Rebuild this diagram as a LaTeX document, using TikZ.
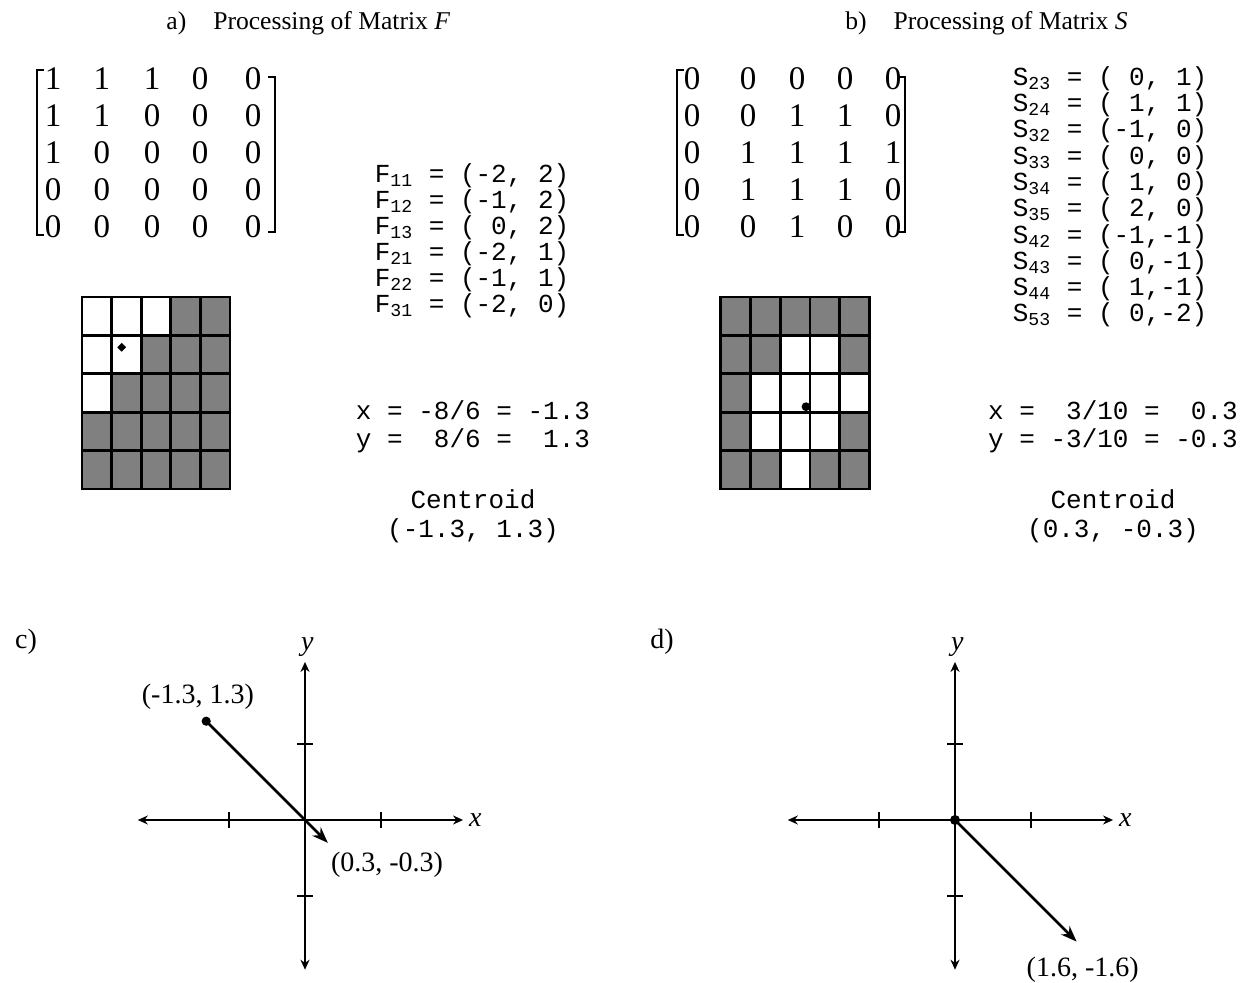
\documentclass[tikz,border=0pt]{standalone}
\usepackage{fontspec}
\setmainfont{Liberation Serif}
\setmonofont{Liberation Mono}
\usepackage{xcolor}
\usetikzlibrary{arrows.meta,shapes.geometric}
\definecolor{cell0}{HTML}{808080}
\definecolor{cell1}{HTML}{FFFFFF}

\begin{document}
\begin{tikzpicture}[x=0.5pt,y=-0.5pt,
  title/.style={font=\fontsize{12.8}{15}\selectfont,anchor=base west,inner sep=0pt},
  entry/.style={font=\fontsize{16.5}{18}\selectfont,anchor=base,inner sep=0pt},
  mono/.style={font=\fontsize{13}{13}\ttfamily,anchor=base,inner sep=0pt},
  lbl/.style={font=\fontsize{14}{16}\selectfont,inner sep=0pt},
  bracket/.style={line width=1.2pt},
  cell/.style={line width=1.4pt},
  tick/.style={line width=1.2pt},
  axis/.style={line width=1.3pt,{Stealth[length=5pt,width=4.5pt]}-{Stealth[length=5pt,width=4.5pt]}},
  vec/.style={line width=1.3pt,-{Stealth[length=8pt,width=6pt]}},
  dot/.style={circle,fill,inner sep=0pt,minimum size=4.6pt}]
\useasboundingbox (0,0) rectangle (1254,983);

% titles
\node[title] (ta) at (166,30) {a)\hspace{13.5pt}Processing of Matrix \textit{F}};
\node[title] (tb) at (845,30) {b)\hspace{13.5pt}Processing of Matrix \textit{S}};

% matrix F and its grid
\draw[bracket] (44,70) -- (37,70) -- (37,235) -- (44,235);
\draw[bracket] (268,77) -- (275,77) -- (275,232) -- (268,232);
\foreach \row [count=\r] in {{1,1,1,0,0},{1,1,0,0,0},{1,0,0,0,0},{0,0,0,0,0},{0,0,0,0,0}}
  \foreach \v [count=\c] in \row {
    \pgfmathsetmacro\mx{{53,102,152,200,253}[\c-1]}
    \node[entry] (f-\r-\c) at (\mx,53+37*\r) {\v};
    \filldraw[cell,fill=cell\v] (52.4+29.6*\c,258.6+38.4*\r) rectangle ++(29.6,38.4);
  }
\node[diamond,fill,inner sep=0pt,minimum size=4.6pt] (fc) at (121.7,347.3) {};

% matrix S and its grid
\draw[bracket] (684,70) -- (677,70) -- (677,235) -- (684,235);
\draw[bracket] (898,77) -- (905,77) -- (905,232) -- (898,232);
\foreach \row [count=\r] in {{0,0,0,0,0},{0,0,1,1,0},{0,1,1,1,1},{0,1,1,1,0},{0,0,1,0,0}}
  \foreach \v [count=\c] in \row {
    \pgfmathsetmacro\mx{{692,748,797,845,893}[\c-1]}
    \node[entry] (s-\r-\c) at (\mx,53+37*\r) {\v};
    \filldraw[cell,fill=cell\v] (691.1+29.7*\c,258.6+38.4*\r) rectangle ++(29.7,38.4);
  }
\node[dot,minimum size=4.4pt] (sc) at (806,406.7) {};

% pixel lists
\foreach \t [count=\i] in {{F\textsubscript{11} = (-2, 2)},{F\textsubscript{12} = (-1, 2)},
    {F\textsubscript{13} = ( 0, 2)},{F\textsubscript{21} = (-2, 1)},
    {F\textsubscript{22} = (-1, 1)},{F\textsubscript{31} = (-2, 0)}}
  \node[mono] (fl\i) at (472,157+26*\i) {\t};
\node[mono] (fx) at (473,420) {x = -8/6 = -1.3};
\node[mono] (fy) at (473,448) {y =~~8/6 =~~1.3};
\node[mono] (fcen) at (473,509) {Centroid};
\node[mono] (fval) at (473,538) {(-1.3, 1.3)};

\foreach \t [count=\i] in {{S\textsubscript{23} = ( 0, 1)},{S\textsubscript{24} = ( 1, 1)},
    {S\textsubscript{32} = (-1, 0)},{S\textsubscript{33} = ( 0, 0)},
    {S\textsubscript{34} = ( 1, 0)},{S\textsubscript{35} = ( 2, 0)},
    {S\textsubscript{42} = (-1,-1)},{S\textsubscript{43} = ( 0,-1)},
    {S\textsubscript{44} = ( 1,-1)},{S\textsubscript{53} = ( 0,-2)}}
  \node[mono] (sl\i) at (1110,59+26.3*\i) {\t};
\node[mono] (sx) at (1113,420) {x =~~3/10 =~~0.3};
\node[mono] (sy) at (1113,448) {y = -3/10 = -0.3};
\node[mono] (scen) at (1113,509) {Centroid};
\node[mono] (sval) at (1113,538) {(0.3, -0.3)};

% c) centroid of F
\node[lbl] (lc) at (26,642) {c)};
\begin{scope}[shift={(305,820)},x=38pt,y=38pt]
  \draw[axis] (-2.2,0) -- (2.08,0);
  \draw[axis] (0,-1.97) -- (0,2.08);
  \foreach \t in {-1,1} {
    \draw[tick] (\t,0) +(0pt,-4pt) -- +(0pt,4pt);
    \draw[tick] (0,\t) +(-4pt,0pt) -- +(4pt,0pt);
  }
  \node[lbl] (cxl) at (2.24,0) {\textit{x}};
  \node[lbl] (cyl) at (0.03,2.27) {\textit{y}};
  \node[dot] (cp) at (-1.3,1.3) {};
  \coordinate (ct) at (0.3,-0.3);
  \draw[vec] (cp.center) -- (ct);
  \node[lbl] (cpl) at (-1.41,1.62) {(-1.3, 1.3)};
  \node[lbl] (ctl) at (1.08,-0.59) {(0.3, -0.3)};
\end{scope}

% d) centroid of S
\node[lbl] (ld) at (662,642) {d)};
\begin{scope}[shift={(955,820)},x=38pt,y=38pt]
  \draw[axis] (-2.2,0) -- (2.08,0);
  \draw[axis] (0,-1.97) -- (0,2.08);
  \foreach \t in {-1,1} {
    \draw[tick] (\t,0) +(0pt,-4pt) -- +(0pt,4pt);
    \draw[tick] (0,\t) +(-4pt,0pt) -- +(4pt,0pt);
  }
  \node[lbl] (dxl) at (2.24,0) {\textit{x}};
  \node[lbl] (dyl) at (0.03,2.27) {\textit{y}};
  \node[dot,minimum size=5pt] (dp) at (0,0) {};
  \coordinate (dt) at (1.6,-1.6);
  \draw[vec] (dp.center) -- (dt);
  \node[lbl] (dtl) at (1.68,-1.97) {(1.6, -1.6)};
\end{scope}
\end{tikzpicture}
\end{document}
